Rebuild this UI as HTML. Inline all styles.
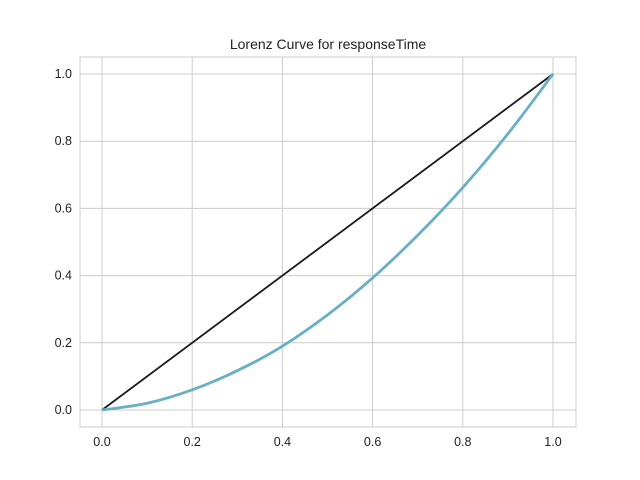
<!DOCTYPE html>
<html><head><meta charset="utf-8"><style>
body{margin:0;background:#fff;}
svg{display:block;font-family:"Liberation Sans",sans-serif;}
</style></head><body>
<svg id="chart" width="640" height="480">
<rect x="80" y="57" width="496" height="370" fill="#fff" stroke="#ccc" stroke-width="1"/>
<g id="grid"></g>
<g id="series"></g>
<text x="328" y="49" text-anchor="middle" font-size="14" fill="#222">Lorenz Curve for responseTime</text>
</svg>
<script>
const xTicks=[0,0.2,0.4,0.6,0.8,1.0];
const yTicks=[0,0.2,0.4,0.6,0.8,1.0];
const tickLabels=["0.0","0.2","0.4","0.6","0.8","1.0"];
const lorenzX=[0,0.1,0.2,0.3,0.4,0.5,0.6,0.7,0.8,0.9,1.0];
const lorenzY=[0,0.02,0.06,0.117,0.19,0.283,0.393,0.52,0.662,0.822,1.0];
const equalityX=[0,1];
const equalityY=[0,1];
const ns="http://www.w3.org/2000/svg";
const sx=v=>102+v*451, sy=v=>410-v*336;
const grid=document.getElementById('grid'), ser=document.getElementById('series');
function mk(tag,attrs,parent){const e=document.createElementNS(ns,tag);for(const k in attrs)e.setAttribute(k,attrs[k]);parent.appendChild(e);return e;}
xTicks.forEach((t,i)=>{
 const l=mk('line',{x1:sx(t),x2:sx(t),y1:57,y2:427,stroke:'#ccc','stroke-width':1},grid);
 
 
 const tx=mk('text',{x:sx(t),y:446,'text-anchor':'middle','font-size':12.5,fill:'#222'},grid);
 tx.textContent=tickLabels[i];
 
 
});
yTicks.forEach((t,i)=>{
 const l=mk('line',{x1:80,x2:576,y1:sy(t),y2:sy(t),stroke:'#ccc','stroke-width':1},grid);
 
 
 const tx=mk('text',{x:72,y:sy(t)+4,'text-anchor':'end','font-size':12.5,fill:'#222'},grid);
 tx.textContent=tickLabels[i];
 
 
});
const eq=mk('polyline',{points:equalityX.map((x,i)=>sx(x)+','+sy(equalityY[i])).join(' '),fill:'none',stroke:'#1a1a1a','stroke-width':1.8},ser);


const lc=mk('path',{fill:'none',stroke:'#6ab0c4','stroke-width':2.8},ser);
let d='M'+sx(lorenzX[0])+','+sy(lorenzY[0]);
for(let i=1;i<lorenzX.length;i++){
 const x0=lorenzX[Math.max(i-2,0)],y0=lorenzY[Math.max(i-2,0)],x1=lorenzX[i-1],y1=lorenzY[i-1],x2=lorenzX[i],y2=lorenzY[i],x3=lorenzX[Math.min(i+1,lorenzX.length-1)],y3=lorenzY[Math.min(i+1,lorenzX.length-1)];
 d+=' C'+sx(x1+(x2-x0)/6)+','+sy(y1+(y2-y0)/6)+' '+sx(x2-(x3-x1)/6)+','+sy(y2-(y3-y1)/6)+' '+sx(x2)+','+sy(y2);
}
lc.setAttribute('d',d);


</script>
</body></html>
